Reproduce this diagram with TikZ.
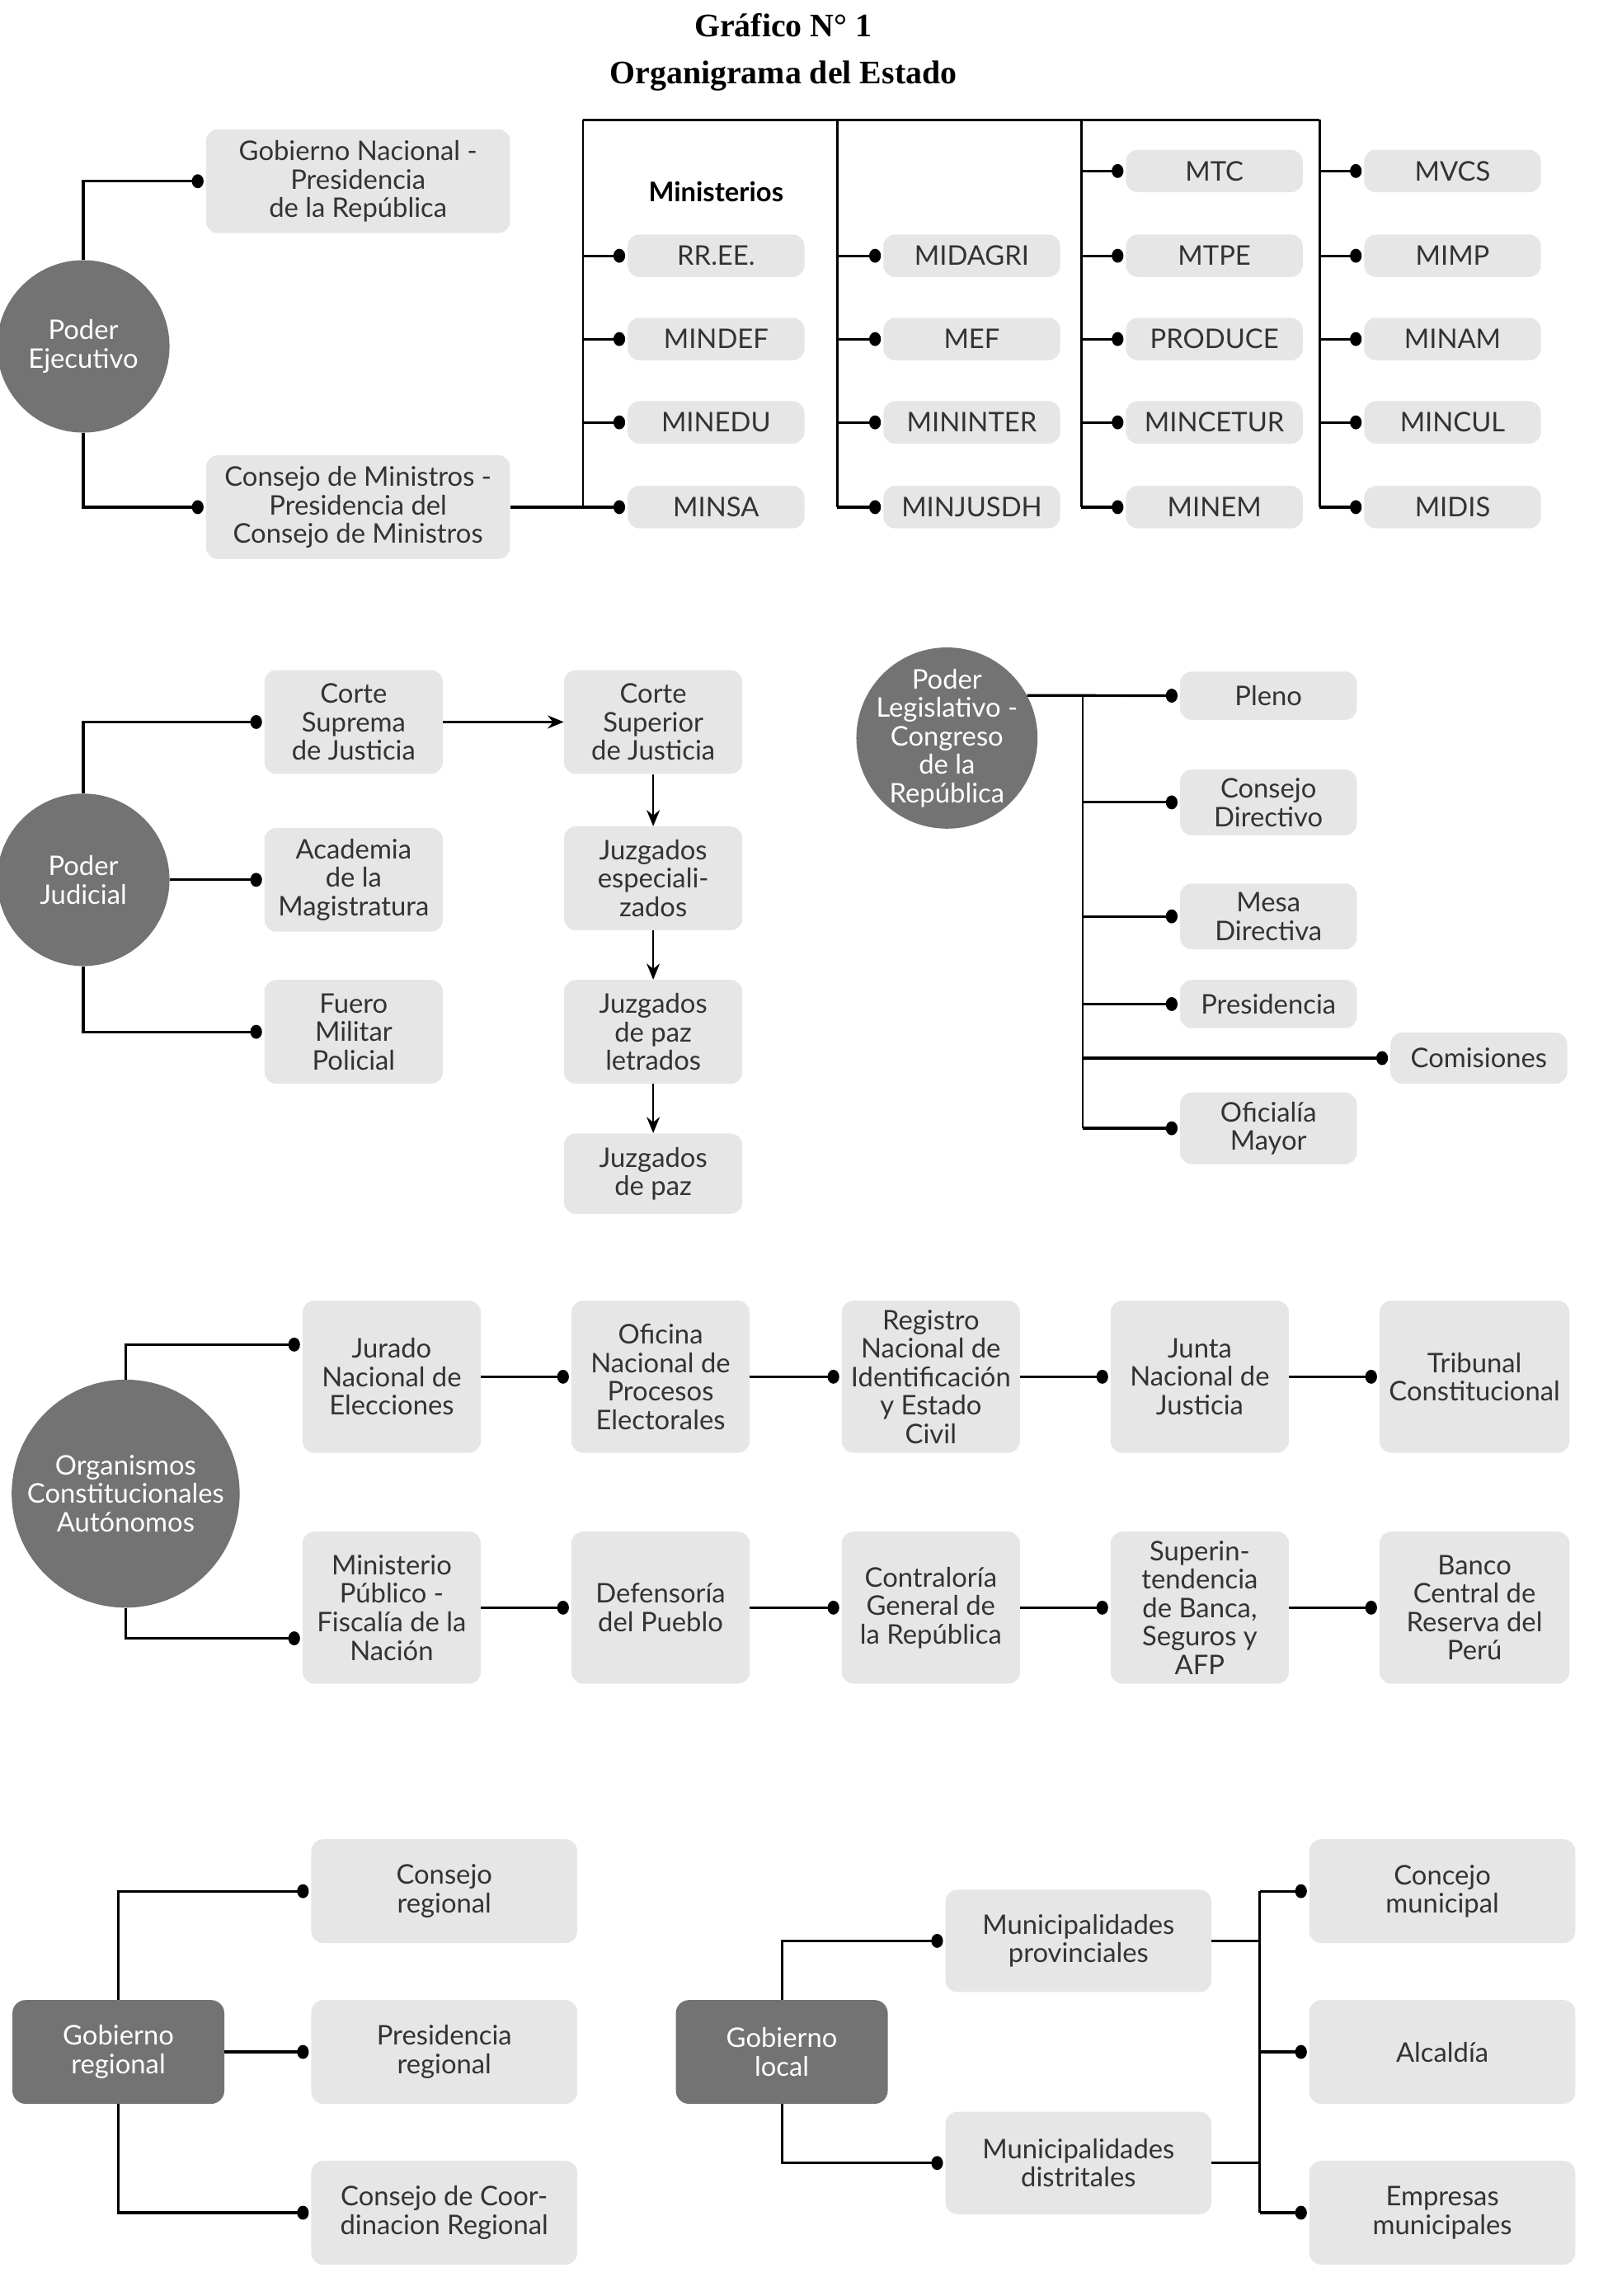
\documentclass[tikz,border=0pt]{standalone}
\usepackage{fontspec}
\setmainfont{Lato}
\newfontfamily\titlefont{Liberation Serif}
\usetikzlibrary{arrows.meta}
\definecolor{boxgray}{HTML}{E6E6E6}
\definecolor{hubgray}{HTML}{737373}
\definecolor{txtgray}{HTML}{333333}
\begin{document}
\begin{tikzpicture}[x=1pt,y=-1pt,
    boxfont/.style={font=\fontsize{18.5}{19.5}\selectfont},
    box/.style={boxfont,fill=boxgray,rounded corners=8pt,text=txtgray,align=center,inner sep=2pt},
    mini/.style={box,minimum width=121,minimum height=29},
    hub/.style={boxfont,circle,fill=hubgray,text=white,align=center,inner sep=0pt},
    hubbox/.style={boxfont,fill=hubgray,rounded corners=9pt,text=white,align=center,minimum width=145,minimum height=71},
    line/.style={line width=1.5pt},
    conn/.style={line width=1.8pt,-{Circle[length=8pt,width=9.5pt]},shorten >=1.5pt},
    arr/.style={line width=1.4pt,-{Stealth[length=11pt,width=9pt]}}]
\useasboundingbox (0,0) rectangle (1100,1571);

% titulo
\node[anchor=base,font=\titlefont\bfseries\fontsize{22.5}{26}\selectfont] (tit1) at (536,25) {Gráfico N° 1};
\node[anchor=base,font=\titlefont\bfseries\fontsize{22.5}{26}\selectfont] (tit2) at (536,57) {Organigrama del Estado};

% poder ejecutivo
\node[hub,minimum size=118] (pe) at (57,237) {Poder\\Ejecutivo};
\node[box,minimum width=208,minimum height=71] (gn) at (245,124) {Gobierno Nacional -\\Presidencia\\de la República};
\node[box,minimum width=208,minimum height=71] (cm) at (245,347) {Consejo de Ministros -\\Presidencia del\\Consejo de Ministros};
\draw[conn] (pe.north) |- (gn.west);
\draw[conn] (pe.south) |- (cm.west);

\node[font=\fontsize{18.5}{19.5}\selectfont\bfseries,text=black] (mtit) at (490,131) {Ministerios};
\node[mini] (rree) at (490,175) {RR.EE.};
\node[mini] (mindef) at (490,232) {MINDEF};
\node[mini] (minedu) at (490,289) {MINEDU};
\node[mini] (minsa) at (490,347) {MINSA};
\node[mini] (midagri) at (665,175) {MIDAGRI};
\node[mini] (mef) at (665,232) {MEF};
\node[mini] (mininter) at (665,289) {MININTER};
\node[mini] (minjusdh) at (665,347) {MINJUSDH};
\node[mini] (mtc) at (831,117) {MTC};
\node[mini] (mtpe) at (831,175) {MTPE};
\node[mini] (produce) at (831,232) {PRODUCE};
\node[mini] (mincetur) at (831,289) {MINCETUR};
\node[mini] (minem) at (831,347) {MINEM};
\node[mini] (mvcs) at (994,117) {MVCS};
\node[mini] (mimp) at (994,175) {MIMP};
\node[mini] (minam) at (994,232) {MINAM};
\node[mini] (mincul) at (994,289) {MINCUL};
\node[mini] (midis) at (994,347) {MIDIS};

\coordinate (busa) at (399,82);
\coordinate (busb) at (573,82);
\coordinate (busc) at (740,82);
\coordinate (busd) at (903,82);
\draw[line] (busa) -- (busd);
\draw[line] (busa) -- (busa |- minsa);
\draw[line] (busb) -- (busb |- minjusdh);
\draw[line] (busc) -- (busc |- minem);
\draw[line] (busd) -- (busd |- midis);
\draw[conn] (cm.east) -- (minsa.west);
\draw[conn] (busa |- rree) -- (rree.west);
\draw[conn] (busa |- mindef) -- (mindef.west);
\draw[conn] (busa |- minedu) -- (minedu.west);
\draw[conn] (busb |- midagri) -- (midagri.west);
\draw[conn] (busb |- mef) -- (mef.west);
\draw[conn] (busb |- mininter) -- (mininter.west);
\draw[conn] (busb |- minjusdh) -- (minjusdh.west);
\draw[conn] (busc |- mtc) -- (mtc.west);
\draw[conn] (busc |- mtpe) -- (mtpe.west);
\draw[conn] (busc |- produce) -- (produce.west);
\draw[conn] (busc |- mincetur) -- (mincetur.west);
\draw[conn] (busc |- minem) -- (minem.west);
\draw[conn] (busd |- mvcs) -- (mvcs.west);
\draw[conn] (busd |- mimp) -- (mimp.west);
\draw[conn] (busd |- minam) -- (minam.west);
\draw[conn] (busd |- mincul) -- (mincul.west);
\draw[conn] (busd |- midis) -- (midis.west);

% poder judicial
\node[hub,minimum size=118] (pj) at (57,602) {Poder\\Judicial};
\node[box,minimum width=122,minimum height=71] (cs) at (242,494) {Corte\\Suprema\\de Justicia};
\node[box,minimum width=122,minimum height=71] (am) at (242,602) {Academia\\de la\\Magistratura};
\node[box,minimum width=122,minimum height=71] (fmp) at (242,706) {Fuero\\Militar\\Policial};
\node[box,minimum width=122,minimum height=71] (csup) at (447,494) {Corte\\Superior\\de Justicia};
\node[box,minimum width=122,minimum height=71] (je) at (447,601) {Juzgados\\especiali-\\zados};
\node[box,minimum width=122,minimum height=71] (jpl) at (447,706) {Juzgados\\de paz\\letrados};
\node[box,minimum width=122,minimum height=55] (jp) at (447,803) {Juzgados\\de paz};
\draw[conn] (pj.north) |- (cs.west);
\draw[conn] (pj.east) -- (am.west);
\draw[conn] (pj.south) |- (fmp.west);
\draw[arr] (cs.east) -- (csup.west);
\draw[arr,line width=1.2pt] (csup.south) -- (je.north);
\draw[arr,line width=1.2pt] (je.south) -- (jpl.north);
\draw[arr,line width=1.2pt] (jpl.south) -- (jp.north);

% poder legislativo
\node[hub,minimum size=124,label={[boxfont,text=white,align=center]center:Poder\\Legislativo -\\Congreso\\de la\\República}] (pl) at (648,505) {};
\node[box,minimum width=121,minimum height=33] (pleno) at (868,476) {Pleno};
\node[box,minimum width=121,minimum height=45] (cdir) at (868,549) {Consejo\\Directivo};
\node[box,minimum width=121,minimum height=45] (mesa) at (868,627) {Mesa\\Directiva};
\node[box,minimum width=121,minimum height=33] (pres) at (868,687) {Presidencia};
\node[box,minimum width=121,minimum height=35] (com) at (1012,724) {Comisiones};
\node[box,minimum width=121,minimum height=49] (omay) at (868,772) {Oficialía\\Mayor};
\coordinate (lbus) at (741,476);
\draw[conn] (pl.28) -- (pleno.west);
\draw[line] (lbus) -- (lbus |- omay);
\draw[conn] (lbus |- cdir) -- (cdir.west);
\draw[conn] (lbus |- mesa) -- (mesa.west);
\draw[conn] (lbus |- pres) -- (pres.west);
\draw[conn] (lbus |- com) -- (com.west);
\draw[conn] (lbus |- omay) -- (omay.west);

% organismos constitucionales autonomos
\node[hub,minimum size=156] (oca) at (86,1022) {Organismos\\Constitucionales\\Autónomos};
\node[box,minimum width=122,minimum height=104] (jne) at (268,942) {Jurado\\Nacional de\\Elecciones};
\node[box,minimum width=122,minimum height=104] (onpe) at (452,942) {Oficina\\Nacional de\\Procesos\\Electorales};
\node[box,minimum width=122,minimum height=104] (reniec) at (637,942) {Registro\\Nacional de\\Identificación\\y Estado\\Civil};
\node[box,minimum width=122,minimum height=104] (jnj) at (821,942) {Junta\\Nacional de\\Justicia};
\node[box,minimum width=130,minimum height=104] (tc) at (1009,942) {Tribunal\\Constitucional};
\node[box,minimum width=122,minimum height=104] (mpfn) at (268,1100) {Ministerio\\Público -\\Fiscalía de la\\Nación};
\node[box,minimum width=122,minimum height=104] (dp) at (452,1100) {Defensoría\\del Pueblo};
\node[box,minimum width=122,minimum height=104] (cgr) at (637,1100) {Contraloría\\General de\\la República};
\node[box,minimum width=122,minimum height=104] (sbs) at (821,1100) {Superin-\\tendencia\\de Banca,\\Seguros y\\AFP};
\node[box,minimum width=130,minimum height=104] (bcrp) at (1009,1100) {Banco\\Central de\\Reserva del\\Perú};
\draw[conn] (oca.north) |- ([yshift=22pt]jne.west);
\draw[conn] (jne.east) -- (onpe.west);
\draw[conn] (onpe.east) -- (reniec.west);
\draw[conn] (reniec.east) -- (jnj.west);
\draw[conn] (jnj.east) -- (tc.west);
\draw[conn] (oca.south) |- ([yshift=-21pt]mpfn.west);
\draw[conn] (mpfn.east) -- (dp.west);
\draw[conn] (dp.east) -- (cgr.west);
\draw[conn] (cgr.east) -- (sbs.west);
\draw[conn] (sbs.east) -- (bcrp.west);

% gobierno regional
\node[hubbox] (gr) at (81,1404) {Gobierno\\regional};
\node[box,minimum width=182,minimum height=71] (creg) at (304,1294) {Consejo\\regional};
\node[box,minimum width=182,minimum height=71] (preg) at (304,1404) {Presidencia\\regional};
\node[box,minimum width=182,minimum height=71] (ccr) at (304,1514) {Consejo de Coor-\\dinacion Regional};
\draw[conn] (gr.north) |- (creg.west);
\draw[conn] (gr.east) -- (preg.west);
\draw[conn] (gr.south) |- (ccr.west);

% gobierno local
\node[hubbox] (gl) at (535,1404) {Gobierno\\local};
\node[box,minimum width=182,minimum height=70] (mprov) at (738,1328) {Municipalidades\\provinciales};
\node[box,minimum width=182,minimum height=70] (mdist) at (738,1480) {Municipalidades\\distritales};
\node[box,minimum width=182,minimum height=71] (cmun) at (987,1294) {Concejo\\municipal};
\node[box,minimum width=182,minimum height=71] (alc) at (987,1404) {Alcaldía};
\node[box,minimum width=182,minimum height=71] (emun) at (987,1514) {Empresas\\municipales};
\coordinate (mbus) at (862,1294);
\draw[conn] (gl.north) |- (mprov.west);
\draw[conn] (gl.south) |- (mdist.west);
\draw[line] (mprov.east) -- (mprov.east -| mbus);
\draw[line] (mdist.east) -- (mdist.east -| mbus);
\draw[line] (mbus) -- (mbus |- emun);
\draw[conn] (mbus) -- (cmun.west);
\draw[conn] (mbus |- alc) -- (alc.west);
\draw[conn] (mbus |- emun) -- (emun.west);
\end{tikzpicture}
\end{document}
